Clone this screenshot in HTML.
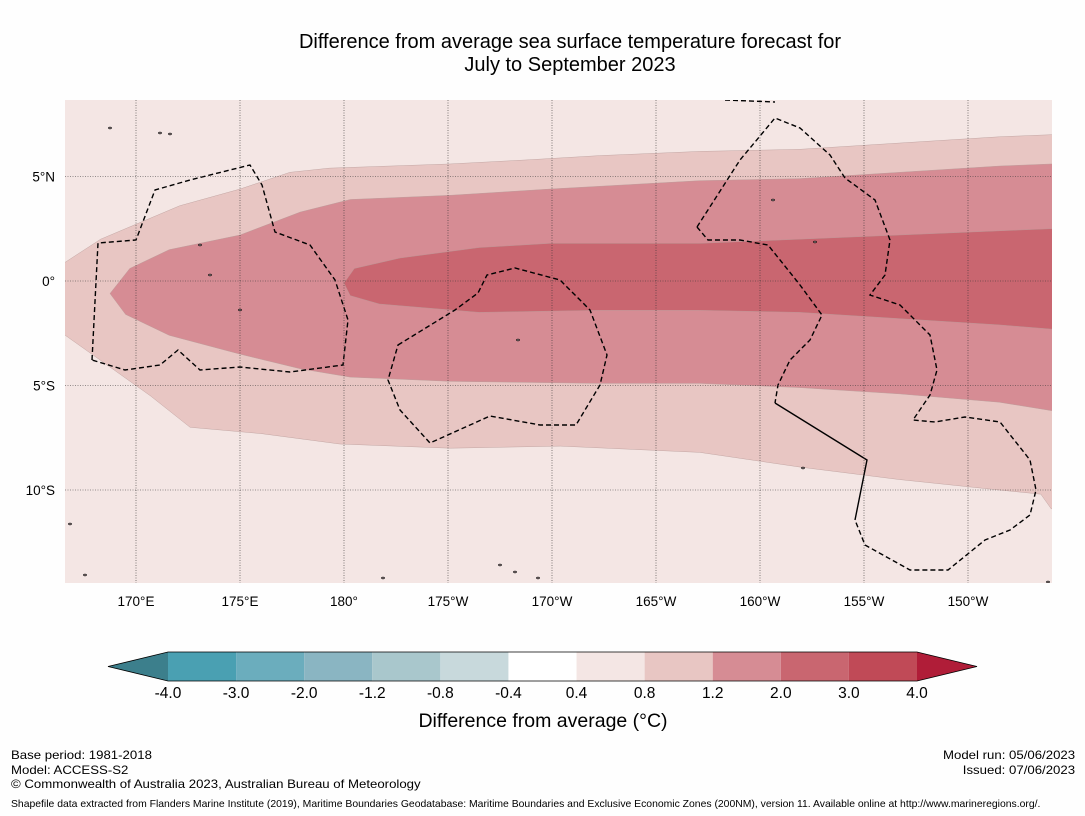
<!DOCTYPE html>
<html><head><meta charset="utf-8">
<style>
body{margin:0;background:#fefefe;font-family:"Liberation Sans","DejaVu Sans",sans-serif;}
#wrap{position:relative;width:1085px;height:816px;overflow:hidden;background:#fefefe;}
.t{position:absolute;color:#000;white-space:nowrap;}
</style></head>
<body>
<div id="wrap">
<div class="t" style="left:0;width:1140px;top:31px;text-align:center;font-size:20px;line-height:23px;">Difference from average sea surface temperature forecast for<br>July to September 2023</div>
<svg id="map" width="1085" height="816" style="position:absolute;left:0;top:0">
</svg>
<div class="t" style="left:11px;top:748px;font-size:12px;line-height:14.5px;transform:scaleX(1.1);transform-origin:left top">Base period: 1981-2018<br>Model: ACCESS-S2<br>© Commonwealth of Australia 2023, Australian Bureau of Meteorology</div>
<div class="t" style="right:10px;top:748px;font-size:12px;line-height:14.5px;text-align:right;transform:scaleX(1.1);transform-origin:right top">Model run: 05/06/2023<br>Issued: 07/06/2023</div>
<div class="t" style="left:11px;top:799px;font-size:10.4px;">Shapefile data extracted from Flanders Marine Institute (2019), Maritime Boundaries Geodatabase: Maritime Boundaries and Exclusive Economic Zones (200NM), version 11. Available online at http://www.marineregions.org/.</div>
</div>
<script>
// Contour band boundaries (lon in degrees east, lat in degrees)
const band08TopLon=[166.6,168.3,172.1,175,177.4,179.3,185.1,188.9,192.3,197.1,201.9,206.7,211.5,214];
const band08TopLat=[0.9,2.0,3.6,4.4,5.2,5.4,5.6,5.8,6.0,6.2,6.3,6.6,6.9,7.0];
const band08BotLon=[166.6,168.3,170.7,172.6,176,179.8,185.1,190.4,197.1,201.9,206.7,211.5,213.5,214];
const band08BotLat=[-2.6,-3.8,-5.5,-7.0,-7.3,-7.8,-8.0,-7.9,-8.2,-8.9,-9.5,-10.0,-10.2,-10.9];
const band12TopLon=[168.75,169.7,171.6,175,177.9,180.3,185.1,189.9,197.1,201.9,206.7,211.5,214];
const band12TopLat=[-0.6,0.6,1.5,2.2,3.3,3.9,4.1,4.4,4.8,4.9,5.2,5.5,5.6];
const band12BotLon=[169.5,171.6,175,177.9,180.3,185.1,192.3,197.1,201.9,206.7,211.5,214];
const band12BotLat=[-1.6,-2.6,-3.5,-4.2,-4.6,-4.8,-4.9,-4.9,-5.1,-5.4,-5.8,-6.2];
const band20TopLon=[180,180.5,182.7,186.5,189.9,197.1,201.9,206.7,211.5,214];
const band20TopLat=[-0.1,0.6,1.1,1.6,1.8,1.8,2.0,2.2,2.4,2.5];
const band20BotLon=[180.3,181.7,186.5,192.3,197.1,201.9,206.7,211.5,214];
const band20BotLat=[-0.7,-1.1,-1.5,-1.4,-1.4,-1.5,-1.8,-2.1,-2.3];
const lonTicks=[170,175,180,185,190,195,200,205,210];
const lonLabels=["170°E","175°E","180°","175°W","170°W","165°W","160°W","155°W","150°W"];
const latTicks=[5,0,-5,-10];
const latLabels=["5°N","0°","5°S","10°S"];
const cbBounds=["-4.0","-3.0","-2.0","-1.2","-0.8","-0.4","0.4","0.8","1.2","2.0","3.0","4.0"];
const cbColors=["#4aa0b2","#6badbd","#8ab5c2","#a9c7cc","#c8d9dc","#ffffff","#f4e6e4","#e8c6c3","#d68c94","#c96670","#c04a57"];

const X0=65,X1=1052,Y0=100,Y1=583;
const xs=lon=>136+(lon-170)*20.8;
const ys=lat=>281-lat*20.9;
const NS="http://www.w3.org/2000/svg";
const svg=document.getElementById('map');
function mk(tag,attrs,parent){const e=document.createElementNS(NS,tag);for(const k in attrs)e.setAttribute(k,attrs[k]);(parent||svg).appendChild(e);return e;}

const clip=mk('clipPath',{id:'mclip'});mk('rect',{x:X0,y:Y0,width:X1-X0,height:Y1-Y0},clip);
const g=mk('g',{'clip-path':'url(#mclip)'});
const bg=mk('rect',{x:X0,y:Y0,width:X1-X0,height:Y1-Y0,fill:'#f4e6e4'},g);



function band(tl,ta,bl,ba,color,name){
  let pts=[];
  for(let i=0;i<tl.length;i++)pts.push(xs(tl[i])+','+ys(ta[i]));
  pts.push((X1+5)+','+ys(ta[ta.length-1]));pts.push((X1+5)+','+ys(ba[ba.length-1]));
  for(let i=bl.length-1;i>=0;i--)pts.push(xs(bl[i])+','+ys(ba[i]));
  if(tl[0]<167){pts.push((X0-5)+','+ys(ba[0]));pts.push((X0-5)+','+ys(ta[0]));}
  const p=mk('polygon',{points:pts.join(' '),fill:color,stroke:'#b89a98','stroke-width':0.4},g);
  
  
}
band(band08TopLon,band08TopLat,band08BotLon,band08BotLat,'#e8c6c3','anomaly-band-0-8');
band(band12TopLon,band12TopLat,band12BotLon,band12BotLat,'#d68c94','anomaly-band-1-2');
band(band20TopLon,band20TopLat,band20BotLon,band20BotLat,'#c96670','anomaly-band-2-0');

lonTicks.forEach((lon,i)=>{
  const l=mk('line',{x1:xs(lon),x2:xs(lon),y1:Y0,y2:Y1,stroke:'#333','stroke-width':0.6,'stroke-dasharray':'1,1.5'});
  
  
  const t=mk('text',{x:xs(lon),y:606,'text-anchor':'middle','font-size':13.5});
  t.textContent=lonLabels[i];
  
  
});
latTicks.forEach((lat,i)=>{
  const l=mk('line',{x1:X0,x2:X1,y1:ys(lat),y2:ys(lat),stroke:'#333','stroke-width':0.6,'stroke-dasharray':'1,1.5'});
  
  
  const t=mk('text',{x:55,y:ys(lat)+5,'text-anchor':'end','font-size':13.5});
  t.textContent=latLabels[i];
  
  
});

const eez=[
"M92,360 L98,243 L136,240 L155,190 L190,180 L250,165 L262,185 L275,232 L310,245 L335,280 L348,320 L343,365 L290,372 L240,367 L200,370 L178,350 L160,365 L125,370 Z",
"M398,345 L455,310 L478,293 L487,275 L515,268 L560,280 L590,310 L607,355 L600,385 L576,425 L540,425 L490,416 L430,443 L400,410 L388,380 Z",
"M697,227 L740,160 L775,118 L800,128 L830,155 L845,178 L875,200 L890,240 L885,275 L870,295 L900,305 L930,335 L937,370 L930,395 L913,420 L935,422 L965,417 L1000,422 L1030,460 L1036,490 L1030,515 L1010,530 L985,540 L948,570 L910,570 L865,545 L855,520",
"M697,227 L708,240 L740,240 L768,245 L800,285 L822,315 L810,340 L790,360 L778,385 L775,403",
"M725,100 L775,102"];
eez.forEach(d=>{const p=mk('path',{d:d,fill:'none',stroke:'#000','stroke-width':1.4,'stroke-dasharray':'5,3'},g);

});
const sol=mk('path',{d:'M775,403 L867,460 L855,520',fill:'none',stroke:'#000','stroke-width':1.4},g);


[[160,133],[170,134],[110,128],[200,245],[210,275],[240,310],[518,340],[773,200],[815,242],[803,468],[500,565],[515,572],[70,524],[85,575],[383,578],[538,578],[1048,582]].forEach(c=>{
 const e=mk('ellipse',{cx:c[0],cy:c[1],rx:1.5,ry:0.9,fill:'#9a8a8a',stroke:'#000','stroke-width':0.6},g);
 
 });

const cbX0=168,cbW=749/11,cbY=652,cbH=29;
const lt=mk('polygon',{points:`108,${cbY+cbH/2} ${cbX0},${cbY} ${cbX0},${cbY+cbH}`,fill:'#3c7f8c'});


const rt=mk('polygon',{points:`977,${cbY+cbH/2} 917,${cbY} 917,${cbY+cbH}`,fill:'#b01d38'});


cbColors.forEach((c,i)=>{const r=mk('rect',{x:cbX0+i*cbW,y:cbY,width:cbW,height:cbH,fill:c});

});
mk('polygon',{points:`108,${cbY+cbH/2} ${cbX0},${cbY} 917,${cbY} 977,${cbY+cbH/2} 917,${cbY+cbH} ${cbX0},${cbY+cbH}`,fill:'none',stroke:'#000','stroke-width':0.8});
cbBounds.forEach((b,i)=>{const t=mk('text',{x:cbX0+i*cbW,y:698,'text-anchor':'middle','font-size':15.5});
t.textContent=b;

});
const ct=mk('text',{x:543,y:727,'text-anchor':'middle','font-size':19.5});
ct.textContent='Difference from average (°C)';


</script>
</body></html>
